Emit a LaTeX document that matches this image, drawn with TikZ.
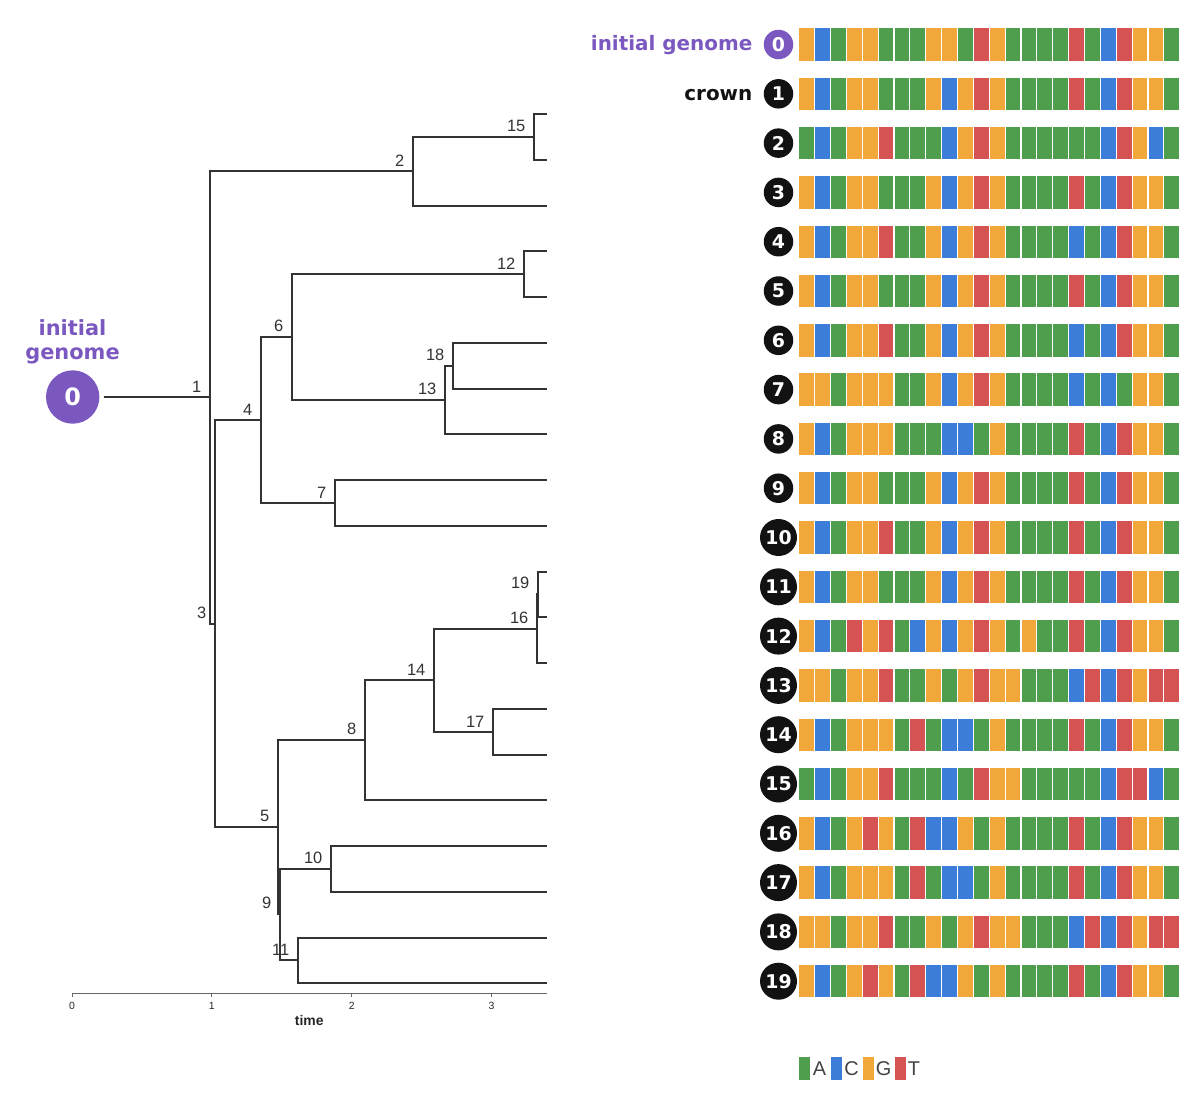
\documentclass[tikz,border=0pt]{standalone}
\usepackage{fontspec}
\setmainfont{Liberation Sans}
\newfontfamily\djv{DejaVu Sans}
\usetikzlibrary{calc}
\definecolor{colA}{HTML}{4E9E4D}
\definecolor{colC}{HTML}{3B7DD8}
\definecolor{colG}{HTML}{F2A73B}
\definecolor{colT}{HTML}{D65354}
\definecolor{purp}{HTML}{7B58BF}
\definecolor{treec}{HTML}{333333}
\definecolor{legtxt}{HTML}{444444}
\tikzset{
  treeline/.style={draw=treec, line width=1.8bp, line join=miter},
  lab/.style={font=\fontsize{16.5}{18}\selectfont, text=treec, inner sep=0pt, anchor=south east},
  numc/.style={circle, fill=black!93, text=white, inner sep=0pt, font=\djv\bfseries\fontsize{19}{20}\selectfont},
  ticklab/.style={font=\fontsize{10.5}{12}\selectfont, text=black!85, inner sep=0pt},
  legtext/.style={font=\fontsize{20}{22}\selectfont, text=legtxt, inner sep=0pt, anchor=base},
}
\begin{document}
\begin{tikzpicture}[x=1bp,y=-1bp]
\useasboundingbox (0,0) rectangle (1200,1099);
% ---------- tree coordinates ----------
\foreach \y [count=\k from 0] in {114,160,206,251,297,343,389,434,480,526,572,617,663,709,755,800,846,892,938,983}
  { \coordinate (L\k) at (547,\y); }
\coordinate (n15) at (534,137);
\coordinate (n2)  at (413,171);
\coordinate (n12) at (524,274);
\coordinate (n18) at (453,366);
\coordinate (n13) at (445,400);
\coordinate (n6)  at (292,337);
\coordinate (n7)  at (335,503);
\coordinate (n4)  at (261,420);
\coordinate (n19) at (538,594);
\coordinate (n16) at (537,629);
\coordinate (n17) at (493,732);
\coordinate (n14) at (434,680);
\coordinate (n8)  at (365,740);
\coordinate (n10) at (331,869);
\coordinate (n11) at (298,960);
\coordinate (n9)  at (280,914);
\coordinate (n5)  at (278,827);
\coordinate (n3)  at (215,624);
\coordinate (n1)  at (210,397);
% ---------- root ----------
\node[circle, fill=purp, text=white, minimum size=53.4bp, inner sep=0pt,
      font=\djv\bfseries\fontsize{24}{26}\selectfont] (root) at (72.7,397) {0};
\node[font=\djv\bfseries\fontsize{21}{24}\selectfont, text=purp, align=center, inner sep=0pt]
      (rootlab) at (72.5,342) {initial\\genome};
\draw[treeline, shorten <=4bp] (root) -- (n1);
% ---------- edges ----------
\foreach \p/\c in {n1/n2,n1/n3,n2/n15,n2/L2,n15/L0,n15/L1,n3/n4,n3/n5,n4/n6,n4/n7,
  n6/n12,n6/n13,n12/L3,n12/L4,n13/n18,n13/L7,n18/L5,n18/L6,n7/L8,n7/L9,
  n5/n8,n5/n9,n8/n14,n8/L15,n14/n16,n14/n17,n16/n19,n16/L12,n19/L10,n19/L11,
  n17/L13,n17/L14,n9/n10,n9/n11,n10/L16,n10/L17,n11/L18,n11/L19}
  { \draw[treeline] (\p) |- (\c); }
% ---------- node labels ----------
\foreach \n in {1,2,3,4,5,6,7,8,9,10,11,12,13,14,15,16,17,18,19}
  { \node[lab] (lab\n) at ($(n\n)+(-8.5,-4.8)$) {\n}; }
% ---------- axis ----------
\coordinate (ax0) at (72,993);
\coordinate (ax1) at (547,993);
\draw[draw=black!60, line width=0.8bp] (ax0) -- (ax1);
\foreach \t in {0,1,2,3} {
  \coordinate (tk\t) at ({72+139.85*\t},993);
  \draw[draw=black!60, line width=0.8bp] (tk\t) -- ++(0,4);
  \node[ticklab] (tl\t) at ($(tk\t)+(0,13.2)$) {\t};
}
\node[font=\bfseries\fontsize{14}{16}\selectfont, text=black!85, inner sep=0pt] (timelab) at (309.3,1020.5) {time};
% ---------- genome grid ----------
\foreach \r/\s in {
 0/{G,C,A,G,G,A,A,A,G,G,A,T,G,A,A,A,A,T,A,C,T,G,G,A},
 1/{G,C,A,G,G,A,A,A,G,C,G,T,G,A,A,A,A,T,A,C,T,G,G,A},
 2/{A,C,A,G,G,T,A,A,A,C,G,T,G,A,A,A,A,A,A,C,T,G,C,A},
 3/{G,C,A,G,G,A,A,A,G,C,G,T,G,A,A,A,A,T,A,C,T,G,G,A},
 4/{G,C,A,G,G,T,A,A,G,C,G,T,G,A,A,A,A,C,A,C,T,G,G,A},
 5/{G,C,A,G,G,A,A,A,G,C,G,T,G,A,A,A,A,T,A,C,T,G,G,A},
 6/{G,C,A,G,G,T,A,A,G,C,G,T,G,A,A,A,A,C,A,C,T,G,G,A},
 7/{G,G,A,G,G,G,A,A,G,C,G,T,G,A,A,A,A,C,A,C,A,G,G,A},
 8/{G,C,A,G,G,G,A,A,A,C,C,A,G,A,A,A,A,T,A,C,T,G,G,A},
 9/{G,C,A,G,G,A,A,A,G,C,G,T,G,A,A,A,A,T,A,C,T,G,G,A},
 10/{G,C,A,G,G,T,A,A,G,C,G,T,G,A,A,A,A,T,A,C,T,G,G,A},
 11/{G,C,A,G,G,A,A,A,G,C,G,T,G,A,A,A,A,T,A,C,T,G,G,A},
 12/{G,C,A,T,G,T,A,C,G,C,G,T,G,A,G,A,A,T,A,C,T,G,G,A},
 13/{G,G,A,G,G,T,A,A,G,A,G,T,G,G,A,A,A,C,T,C,T,G,T,T},
 14/{G,C,A,G,G,G,A,T,A,C,C,A,G,A,A,A,A,T,A,C,T,G,G,A},
 15/{A,C,A,G,G,T,A,A,A,C,A,T,G,G,A,A,A,A,A,C,T,T,C,A},
 16/{G,C,A,G,T,G,A,T,C,C,G,A,G,A,A,A,A,T,A,C,T,G,G,A},
 17/{G,C,A,G,G,G,A,T,A,C,C,A,G,A,A,A,A,T,A,C,T,G,G,A},
 18/{G,G,A,G,G,T,A,A,G,A,G,T,G,G,A,A,A,C,T,C,T,G,T,T},
 19/{G,C,A,G,T,G,A,T,C,C,G,A,G,A,A,A,A,T,A,C,T,G,G,A}} {
  \foreach \c [count=\j from 0] in \s {
    \fill[fill=col\c] ({799.3+15.875*\j},{28.3+49.3*\r}) rectangle +(14.7,32.4);
  }
}
% ---------- row numbers ----------
\node[numc, fill=purp, minimum size=29.5bp] (r0) at (778.5,44.5) {0};
\foreach \i in {1,...,9}
  { \node[numc, minimum size=29.5bp] (r\i) at (778.5,{44.5+49.3*\i}) {\i}; }
\foreach \i in {10,...,19}
  { \node[numc, minimum size=37bp] (r\i) at (778.5,{44.5+49.3*\i}) {\i}; }
\node[font=\djv\bfseries\fontsize{20}{22}\selectfont, text=purp, inner sep=0pt, anchor=base east]
  (iglab) at (752.5,50.8) {initial genome};
\node[font=\djv\bfseries\fontsize{20}{22}\selectfont, text=black!93, inner sep=0pt, anchor=base east]
  (crownlab) at (752.5,100.1) {crown};
% ---------- legend ----------
\fill[colA] (799,1057) rectangle (810,1080);
\node[legtext] (legA) at (819.5,1075.5) {A};
\fill[colC] (831,1057) rectangle (842,1080);
\node[legtext] (legC) at (851.5,1075.5) {C};
\fill[colG] (863,1057) rectangle (874,1080);
\node[legtext] (legG) at (883.5,1075.5) {G};
\fill[colT] (894.5,1057) rectangle (905.5,1080);
\node[legtext] (legT) at (914,1075.5) {T};
\end{tikzpicture}
\end{document}
